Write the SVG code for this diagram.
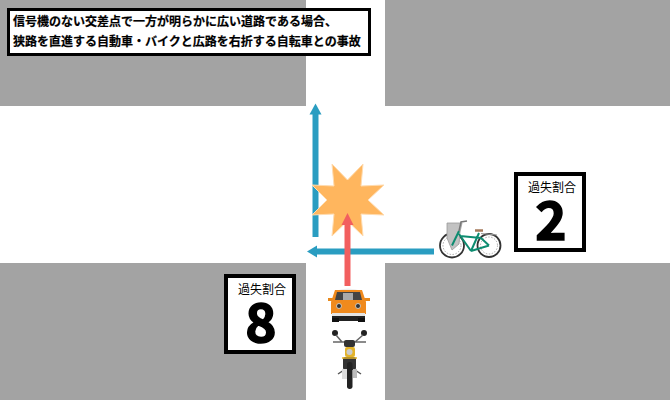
<svg xmlns="http://www.w3.org/2000/svg" width="670" height="400" viewBox="0 0 670 400">
<style>
.block{fill:#a3a3a3}
.box{fill:#fff;stroke:#000}
.t{font-family:"Noto Sans CJK JP","Liberation Sans",sans-serif;fill:#000}
.title{font-size:12px;font-weight:700;stroke:#000;stroke-width:.2}
.cap{font-size:12px}
.num{font-size:53px;font-weight:700;text-anchor:middle;stroke:#000;stroke-width:1.600}
.blue{stroke:#2a9dc1;stroke-width:6;fill:none}
.red{stroke:#f25f5f;stroke-width:6;fill:none}
.tyre{fill:none;stroke:#333;stroke-width:1.800}
.spoke{fill:none;stroke:#888;stroke-width:.7}
.frame{fill:none;stroke:#0d8c70;stroke-width:2}
</style>
<rect width="670" height="400" fill="#fff"/>
<g id="road-blocks">
<rect class="block" x="0" y="0" width="306" height="106"/>
<rect class="block" x="385" y="0" width="285" height="106"/>
<rect class="block" x="0" y="263" width="306" height="137"/>
<rect class="block" x="385" y="263" width="285" height="137"/>
</g>
<g id="title">
<rect class="box" x="8.500" y="9.500" width="361" height="45" stroke-width="3"/>
<text class="t title" x="13" y="26">信号機のない交差点で一方が明らかに広い道路である場合、</text>
<text class="t title" x="13" y="46">狭路を直進する自動車・バイクと広路を右折する自転車との事故</text>
</g>
<g id="connectors-blue">
<path class="blue" d="M434,251.500H315"/>
<path d="M307,251.500L317,245.500V257.500Z" fill="#2a9dc1"/>
<path class="blue" d="M315.500,237V112"/>
<path d="M315.500,103.500L321.500,114.500H309.500Z" fill="#2a9dc1"/>
</g>
<g id="impact">
<polygon points="347.500,180 363,164 361,186 384,185 368,200 384,215 361,214 363,236 347.500,221 332,236 334,214 312,215 327,200 312,185 334,186 332,164" fill="#ffb65e" stroke="#ffdcb0" stroke-width="1"/>
</g>
<g id="connectors-red">
<path class="red" d="M347.500,286V222"/>
<path d="M347.500,213L353.500,225H341.500Z" fill="#f25f5f"/>
</g>
<g id="bicycle">
<circle class="spoke" cx="452" cy="245.500" r="9" stroke-dasharray="1.500 1.500" stroke-width="6"/>
<circle class="spoke" cx="489" cy="245.500" r="8.500" stroke-dasharray="1.500 1.500" stroke-width="6"/>
<circle class="tyre" cx="452" cy="245.500" r="12"/>
<circle class="tyre" cx="489" cy="245.500" r="11.500"/>
<path d="M447,223H462L460,232L459,244L452,250L447,238Z" fill="#c2c2c2" stroke="#999" stroke-width=".8"/>
<path class="frame" d="M452,245.500L459,231M459,234L471,251M460,236L481,238M471,251L479,233M471,251L489,245.500M481,238L489,245.500"/>
<path d="M459,231L461,222L467,221" fill="none" stroke="#777" stroke-width="1.500"/>
<path d="M475,230.500H483" stroke="#a5785a" stroke-width="2.500"/>
<path d="M481,233.500L497,235" stroke="#999" stroke-width="1.200"/>
</g>
<g id="car">
<path d="M335,291Q348,286 362,291Z" fill="#eee"/>
<rect x="328" y="298" width="42" height="3" fill="#e8891c"/>
<path d="M335,290H362L366,302V314H331V302Z" fill="#f08a1d"/>
<path d="M337,292H360L362,300H335Z" fill="#444"/>
<rect x="343" y="293" width="10" height="7" fill="#aaa"/>
<rect x="332" y="313" width="33" height="3" fill="#e4e4e4"/>
<rect x="332" y="316" width="33" height="5" fill="#222"/>
<rect x="332" y="318" width="7" height="4" fill="#111"/>
<rect x="358" y="318" width="7" height="4" fill="#111"/>
<circle cx="339" cy="306" r="2.500" fill="#333" stroke="#ddd" stroke-width=".8"/>
<circle cx="358" cy="306" r="2.500" fill="#333" stroke="#ddd" stroke-width=".8"/>
</g>
<g id="motorcycle">
<circle cx="335" cy="333" r="3" fill="#222"/>
<circle cx="364" cy="333" r="3" fill="#222"/>
<path d="M336,335L342,342M363,335L355,342M333,342H366" fill="none" stroke="#666" stroke-width="1.500"/>
<rect x="344" y="340" width="11" height="7" rx="2" fill="#333"/>
<rect x="345" y="347" width="10" height="10" rx="2" fill="#e3b32a"/>
<circle cx="349.500" cy="352" r="3" fill="#ccc"/>
<rect x="343" y="357" width="13" height="13" rx="2" fill="#333"/>
<path d="M342,358H357" stroke="#e3b32a" stroke-width="1.500"/>
<path d="M338,374L344,370M361,374L355,370" stroke="#555" stroke-width="1.500"/>
<rect x="342" y="369" width="5" height="10" fill="#ddd"/>
<rect x="353" y="369" width="4" height="9" fill="#bbb"/>
<rect x="347" y="362" width="5.500" height="27" rx="2.700" fill="#222"/>
</g>
<g id="ratio-2">
<rect class="box" x="516" y="174" width="68" height="76" stroke-width="4"/>
<text class="t cap" x="552" y="192" text-anchor="middle">過失割合</text>
<text class="t num" x="551" y="240">2</text>
</g>
<g id="ratio-8">
<rect class="box" x="226" y="276" width="68" height="76" stroke-width="4"/>
<text class="t cap" x="262" y="294" text-anchor="middle">過失割合</text>
<text class="t num" x="261" y="342">8</text>
</g>
</svg>
